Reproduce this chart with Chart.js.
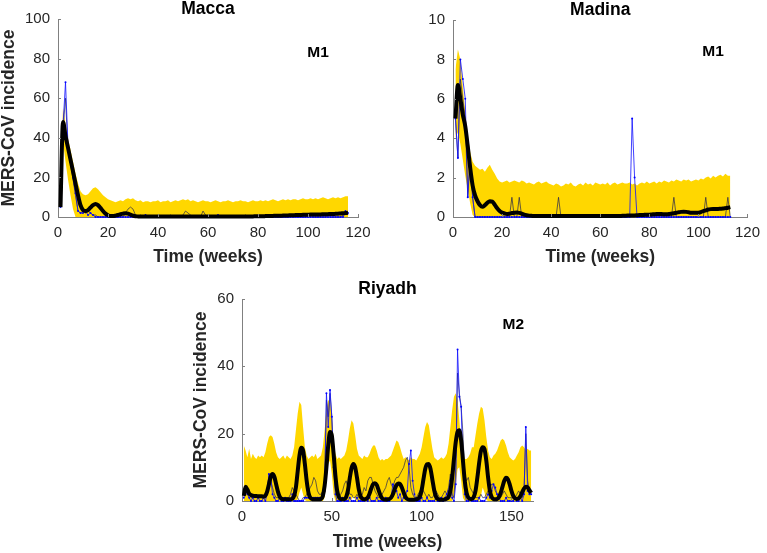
<!DOCTYPE html>
<html><head><meta charset="utf-8">
<script src="https://cdn.jsdelivr.net/npm/chart.js@4/dist/chart.umd.min.js"></script>
<style>
html,body{margin:0;padding:0;background:#fff;}
body{width:767px;height:553px;position:relative;overflow:hidden;}
canvas{position:absolute;}
</style></head><body>
<canvas id="c1" width="383" height="270" style="left:0;top:0"></canvas>
<canvas id="c2" width="384" height="270" style="left:383px;top:0"></canvas>
<canvas id="c3" width="400" height="273" style="left:192px;top:280px"></canvas>
<script>
// ---------------- DATA ----------------
const panelTitles = ['Macca', 'Madina', 'Riyadh'];
const modelTags = ['M1', 'M1', 'M2'];
const xAxisTitle = 'Time (weeks)';
const yAxisTitle = 'MERS-CoV incidence';

// Macca (weeks 1..116)
const maccaXTicks = [0, 20, 40, 60, 80, 100, 120];
const maccaYTicks = [0, 20, 40, 60, 80, 100];
const maccaMean = [
 5,48,41,35,29,23,17,11,6,3.5,
 3,3.5,4.8,6,6.6,6,4.6,3,1.7,0.9,
 0.5,0.5,0.7,1,1.4,1.7,1.9,1.7,1.2,0.7,
 0.4,0.3,0.25,0.2,0.2,0.2,0.2,0.2,0.2,0.2,
 0.2,0.2,0.2,0.2,0.2,0.2,0.2,0.2,0.2,0.2,
 0.2,0.2,0.2,0.2,0.2,0.2,0.2,0.2,0.2,0.2,
 0.2,0.2,0.2,0.2,0.2,0.2,0.2,0.2,0.2,0.2,
 0.2,0.2,0.25,0.25,0.3,0.3,0.3,0.3,0.35,0.35,
 0.4,0.4,0.45,0.5,0.5,0.55,0.6,0.6,0.65,0.7,
 0.75,0.8,0.85,0.9,0.95,1.0,1.05,1.1,1.1,1.15,
 1.2,1.2,1.25,1.3,1.3,1.35,1.4,1.45,1.5,1.5,
 1.6,1.7,1.8,1.9,2.0,2.1];
const maccaUpper = [
 20,55,47,40,34,28,22,17,13,11.5,
 11,11.5,13,14.5,15,14,12.5,11,10,9,
 8.5,8,7.5,8,8.5,8,9,9.5,9,9.5,
 8.5,8,8.5,7.5,8,8,7.5,8,8,8.5,
 7.5,8,8,8.5,7.5,8,8.5,8,8.5,9,
 8.5,9,8,8.5,8,7.5,8,8.5,8,8,
 7.5,8,8.5,8,7.5,8,8,8.5,8,7.5,
 8,8,8.5,8,8,7.5,8,8.5,8,8,
 8.5,8,8.5,8,8.5,9,8.5,8,8.5,9,
 8.5,9,8.5,9,9,8.5,9,9.5,9,9,
 9.5,9,9.5,9,9.5,10,9.5,9,9.5,10,
 9.5,10,9.5,10,10.5,10.5];
const maccaLower = [
 3,38,28,19,11,4,0,0,0,0,
 0,0,0,0,0,0,0,0,0,0, 0,0,0,0,0,0,0,0,0,0,
 0,0,0,0,0,0,0,0,0,0, 0,0,0,0,0,0,0,0,0,0,
 0,0,0,0,0,0,0,0,0,0, 0,0,0,0,0,0,0,0,0,0,
 0,0,0,0,0,0,0,0,0,0, 0,0,0,0,0,0,0,0,0,0,
 0,0,0,0,0,0,0,0,0,0, 0,0,0,0,0,0,0,0,0,0,
 0,0,0,0,0,0];
const maccaObserved = [
 5,46,68,36,28,20,12,3,2,2,
 3,1,2,1,0,0,0,0,0,0, 0,0,0,0,0,0,0,0,0,0,
 0,0,0,0,1,0,0,0,0,0, 0,0,0,0,0,0,0,0,0,0,
 0,0,0,0,0,0,0,0,0,0, 0,0,0,1,0,0,0,0,0,0,
 0,0,0,0,0,0,0,0,0,0, 0,0,0,0,0,0,0,0,0,0,
 0,0,0,0,0,0,0,0,0,0, 0,0,0,0,0,0,0,0,0,0,
 0,0,0,0,3,2];
const maccaSecondary = [
 5,44,60,34,27,19,11,3,2,3,
 2,3,2,1,1,0,0,0,0,0,
 0,0,0,0,0,0,2,4,5,4,
 1,0,1,0,1,0,0,0,0,0,
 0,0,0,0,1,0,0,0,0,1,
 3,2,1,0,0,0,0,3,1,0,
 0,0,0,0,0,0,0,0,0,0,
 0,0,0,0,1,0,0,0,0,0,
 0,0,0,0,0,0,0,0,0,0,
 0,0,0,1,0,0,0,0,0,1,
 1,0,0,0,0,0,0,1,0,0,
 0,0,0,1,3,1];

// Madina (weeks 1..113)
const madinaXTicks = [0, 20, 40, 60, 80, 100, 120];
const madinaYTicks = [0, 2, 4, 6, 8, 10];
const madinaMean = [
 5,6.7,6.0,5.2,4.6,3.6,2.5,1.6,1.1,0.8,
 0.6,0.52,0.6,0.72,0.8,0.78,0.62,0.44,0.3,0.22,
 0.18,0.15,0.17,0.2,0.22,0.23,0.21,0.17,0.12,0.09,
 0.07,0.06,0.05,0.05,0.05,0.05,0.05,0.05,0.05,0.05,
 0.05,0.05,0.05,0.05,0.05,0.05,0.05,0.05,0.05,0.05,
 0.05,0.05,0.05,0.05,0.05,0.05,0.05,0.05,0.05,0.05,
 0.05,0.05,0.05,0.05,0.05,0.05,0.05,0.05,0.06,0.06,
 0.07,0.07,0.08,0.08,0.09,0.1,0.1,0.11,0.12,0.12,
 0.13,0.14,0.15,0.15,0.15,0.14,0.14,0.15,0.17,0.19,
 0.22,0.24,0.26,0.27,0.26,0.24,0.22,0.21,0.21,0.22,
 0.25,0.3,0.34,0.38,0.4,0.41,0.41,0.41,0.42,0.43,
 0.45,0.47,0.5];
const madinaUpper = [
 7.5,8.5,8,6.6,5.3,4.2,3.3,2.8,2.6,2.5,
 2.4,2.45,2.3,2.5,2.65,2.4,2.2,1.95,1.8,1.75,
 1.8,1.85,1.75,1.8,1.85,1.8,1.75,1.85,1.8,1.7,
 1.75,1.7,1.65,1.75,1.8,1.7,1.75,1.8,1.7,1.65,
 1.6,1.7,1.65,1.55,1.6,1.7,1.65,1.75,1.6,1.55,
 1.65,1.7,1.6,1.75,1.65,1.7,1.6,1.75,1.7,1.65,
 1.7,1.65,1.75,1.6,1.7,1.75,1.65,1.7,1.75,1.7,
 1.7,1.75,1.65,1.7,1.6,1.7,1.75,1.7,1.8,1.7,
 1.75,1.8,1.7,1.8,1.75,1.85,1.8,1.75,1.85,1.8,
 1.9,1.85,1.8,1.9,1.85,1.9,1.8,1.85,1.9,1.85,
 1.95,1.9,2,2.05,1.95,2.1,2,2.1,2.15,2.05,
 2.2,2.1,2.1];
const madinaLower = [
 4,4.3,3.7,2.9,2.1,1.4,0.7,0.1,0,0,
 0,0,0,0,0,0,0,0,0,0, 0,0,0,0,0,0,0,0,0,0,
 0,0,0,0,0,0,0,0,0,0, 0,0,0,0,0,0,0,0,0,0,
 0,0,0,0,0,0,0,0,0,0, 0,0,0,0,0,0,0,0,0,0,
 0,0,0,0,0,0,0,0,0,0, 0,0,0,0,0,0,0,0,0,0,
 0,0,0,0,0,0,0,0,0,0, 0,0,0,0,0,0,0,0,0,0,
 0,0,0];
const madinaObserved = [
 5,3,8,7,6,1,3,1,0,0,
 0,0,0,0,0,0,0,0,0,0, 0,0,0,0,0,0,0,0,0,0,
 0,0,0,0,0,0,0,0,0,0, 0,0,0,0,0,0,0,0,0,0,
 0,0,0,0,0,0,0,0,0,0, 0,0,0,0,0,0,0,0,0,0,
 0,0,5,2,0,0,0,0,0,0, 0,0,0,0,0,0,0,0,0,0,
 0,0,0,0,0,0,0,0,0,0, 0,0,0,0,0,0,0,0,0,0,
 0,0,0];
const madinaSecondary = [
 5,3,7,6,5,1,3,1,0,0,
 0,0,0,0,0,0,0,0,0,0,
 0,0,0,1,0,0,1,0,0,0,
 0,0,0,0,0,0,0,0,0,0,
 0,0,1,0,0,0,0,0,0,0,
 0,0,0,0,0,0,0,0,0,0,
 0,0,0,0,0,0,0,0,0,0,
 0,0,0,0,0,0,0,0,0,0,
 0,0,0,0,0,0,0,0,0,1,
 0,0,0,0,0,0,0,0,0,0,
 0,0,1,0,0,0,0,0,0,0,
 0,1,0];

// Riyadh (weeks 1..161)
const riyadhXTicks = [0, 50, 100, 150];
const riyadhYTicks = [0, 20, 40, 60];
const riyadhMean = [
 1.5,4.2,3.4,2.2,1.8,1.6,1.5,1.5,1.4,1.4,
 1.4,1.3,1.6,2.8,5,7.2,8,7.2,5,2.8,
 1.3,0.7,0.5,0.5,0.5,0.5,0.5,0.7,1.5,4,
 8.8,13.5,15.8,15,11,6,2.5,1,0.6,0.5,
 0.5,0.5,0.5,0.6,1.5,4.5,10,16.5,20.5,19.5,
 14,7.5,3,1.1,0.6,0.5,0.6,1.2,3.2,6.8,
 9.8,11,10,7,3.5,1.4,0.7,0.5,0.6,1,
 2.2,3.8,5,5.3,4.8,3.3,1.8,0.8,0.5,0.4,
 0.5,0.6,1,2,3.5,4.7,5.2,5,4,2.5,
 1.2,0.6,0.4,0.4,0.4,0.4,0.5,0.7,1.3,3.2,
 6.4,9.5,10.9,11,9.4,6.3,3.2,1.3,0.6,0.4,
 0.4,0.4,0.5,0.7,1.2,3,7,12.5,17.5,20.5,
 21,18,12,6,2.5,1,0.6,0.6,1.2,3,
 6.8,11.2,14.8,16,15.4,12,7,3,1.2,0.6,
 0.5,0.6,1.1,2.4,4.2,6,6.9,6.5,5,3,
 1.5,0.8,0.6,0.8,1.5,2.6,3.7,4.2,4,3.2,
 2.4];
const riyadhUpper = [
 16.5,15,13,15.5,12.5,14,13,12.5,13.5,13,
 13.5,13,14.5,17,19,19.5,19,17,14.5,13,
 12.5,13,13.5,12.5,13.5,13,12.5,13.5,16,21,
 26,29.5,28.5,22,16,13.5,12.5,13,13.5,13,
 14,12.5,13,13.5,16,21,27,30,29.5,25,
 18,14,12.5,13,12.5,13,13.5,15,18,21.5,
 24,23,19.5,15.5,13.5,13,12.5,13.5,13,13,
 14,15.5,16.5,16.5,15,13,12,12.5,12,12.5,
 12.5,13,13.5,15,16.5,18,17.5,16,14,12.5,
 13,12.5,12,13,12.5,12.5,12,13,14,16,
 19,22,23.5,22.5,19,15.5,13,12.5,12,12.5,
 13,12.5,13,14,17,22,27,31,32,30,
 24,17.5,14,12.5,12.5,13,14,16,16,19.5,
 23,26,28,27.5,24,19,15,13,12.5,13.5,
 14,15,16.5,18,18.5,18,16.5,14.5,13,12.5,
 12,12.5,13.5,14.5,16,16.5,16,15,15.5,15,
 15];
const riyadhLower = [
 0,0,0,0,0,0,0,0,0,0, 0,0,0,0,0,0,0,0,0,0, 0,0,0,0,0,0,0,0,0,0,
 0.5,2.5,4,2,0.3,0,0,0,0,0,
 0,0,0,0,0,1,6,11,12,8,
 2,0,0,0,0,0,0,0,0,0,
 0.5,1.5,0.5,0,0,0,0,0,0,0,
 0,0,0,0,0,0,0,0,0,0, 0,0,0,0,0,0,0,0,0,0, 0,0,0,0,0,0,0,0,0,0,
 0,0,0,0,0,0,0,0,0,0,
 0,0,0,0,0,0,0,1,5,9.5,
 10,6,1,0,0,0,0,0,0,0,
 0,0,1.5,4,2.5,0.3,0,0,0,0,
 0,0,0,0,0,0,0,0,0,0, 0,0,0,0,0,0,0,0,0,0,
 0];
const riyadhObserved = [
 1,3,2,1,0,1,0,0,1,0,
 0,1,0,2,8,7,2,1,0,0,
 1,0,0,1,0,0,0,2,0,0,
 0,0,0,0,1,1,1,1,1,1,
 1,1,1,1,1,3,32,22,33,25,
 10,2,0,0,0,1,0,0,0,1,
 0,0,0,1,0,0,0,0,1,0,
 1,0,0,0,1,0,0,0,0,1,
 0,0,1,5,4,3,1,2,0,1,
 2,3,11,15,6,2,0,0,0,1,
 0,0,1,0,0,0,0,1,0,0,
 1,0,1,2,3,6,1,0,5,45,
 31,28,10,2,0,0,1,0,0,0,
 0,1,0,0,0,1,2,1,3,5,
 4,2,1,0,0,0,1,0,0,0,
 0,1,0,0,1,0,2,22,3,2,
 2];
const riyadhSecondary = [
 2,3,2,2,1,1,1,1,1,1,
 1,1,1,3,8,6,4,2,1,1,
 1,1,1,1,1,1,2,4,3,2,
 1,0,0,1,1,2,3,4,5,7,
 6,3,2,2,3,5,30,25,32,25,
 12,4,2,1,2,3,5,6,4,2,
 2,1,1,2,1,1,2,4,3,6,
 7,7,5,3,2,1,1,2,3,4,
 6,7,5,4,6,7,7,8,9,10,
 12,13,10,4,2,1,1,2,3,4,
 3,2,1,2,1,1,2,3,2,1,
 1,2,3,2,4,8,2,1,10,38,
 32,28,20,8,6,7,4,3,2,1,
 1,1,2,1,1,2,3,4,5,5,
 3,2,1,1,2,3,2,1,1,1,
 1,1,2,3,2,1,3,20,6,3,
 2];

// ---------------- RENDERING ----------------
const FONT = '"Liberation Sans", Arial, Helvetica, sans-serif';
Chart.defaults.font.family = FONT;
const AXIS = '#808080', TXT = '#262626';

const toPts = arr => arr.map((v, i) => ({x: i + 1, y: v}));

const inTicks = {
  id: 'inTicks',
  afterDatasetsDraw(chart) {
    const {ctx, chartArea: {left, bottom}, scales: {x, y}} = chart;
    ctx.save(); ctx.strokeStyle = AXIS; ctx.lineWidth = 1; ctx.beginPath();
    x.ticks.forEach(t => { const p = Math.round(x.getPixelForValue(t.value)) + 0.5; ctx.moveTo(p, bottom); ctx.lineTo(p, bottom - 3); });
    y.ticks.forEach(t => { const p = Math.round(y.getPixelForValue(t.value)) + 0.5; ctx.moveTo(left, p); ctx.lineTo(left + 3, p); });
    ctx.stroke(); ctx.restore();
  }
};
const panelText = {
  id: 'panelText',
  afterDraw(chart, args, o) {
    const {ctx, chartArea, scales: {x, y}} = chart;
    ctx.save();
    ctx.fillStyle = '#000'; ctx.textAlign = 'center'; ctx.textBaseline = 'middle';
    ctx.font = 'bold 17.5px ' + FONT;
    ctx.fillText(o.title, (chartArea.left + chartArea.right) / 2, chartArea.top + o.titleDy);
    ctx.font = 'bold 15.5px ' + FONT;
    ctx.fillText(o.tag, x.getPixelForValue(o.tagX), y.getPixelForValue(o.tagY));
    ctx.restore();
  }
};

function makePanel(id, d) {
  return new Chart(document.getElementById(id), {
    type: 'line',
    data: { datasets: [
      {data: toPts(d.mean), borderColor: '#000', borderWidth: 4, pointRadius: 0, tension: 0.4, cubicInterpolationMode: 'monotone', fill: false, clip: false},
      {data: toPts(d.obs), borderColor: '#1010ff', borderWidth: 0.8, pointRadius: 1, pointBackgroundColor: '#0000ff', pointBorderWidth: 0, tension: 0, fill: false, clip: false},
      {data: toPts(d.sec), borderColor: 'rgba(30,30,80,0.85)', borderWidth: 0.8, pointRadius: 0, tension: 0, fill: false, clip: false},
      {data: toPts(d.upper), borderColor: 'rgba(0,0,0,0)', borderWidth: 0, backgroundColor: '#FFD700', pointRadius: 0, tension: 0, fill: '+1'},
      {data: toPts(d.lower), borderColor: 'rgba(0,0,0,0)', borderWidth: 0, pointRadius: 0, tension: 0, fill: false}
    ]},
    options: {
      responsive: false, animation: false, devicePixelRatio: 1,
      layout: {padding: d.pad},
      plugins: {legend: {display: false}, tooltip: {enabled: false},
        panelText: {title: d.title, tag: d.tag, tagX: d.tagX, tagY: d.tagY, titleDy: -10}},
      scales: {
        x: {type: 'linear', min: 0, max: d.xmax,
          afterBuildTicks: s => { s.ticks = d.xticks.map(v => ({value: v})); },
          afterFit: s => { s.height = d.xh; },
          grid: {display: false, drawTicks: false},
          border: {display: true, color: AXIS, width: 1},
          ticks: {padding: 7, color: TXT, font: {size: 15}, maxRotation: 0, autoSkip: false},
          title: {display: true, text: xAxisTitle, color: TXT, font: {size: 17.5, weight: 'bold', lineHeight: 1}, padding: {top: 0, bottom: d.xtpad}}},
        y: {type: 'linear', min: 0, max: d.ymax,
          afterBuildTicks: s => { s.ticks = d.yticks.map(v => ({value: v})); },
          afterFit: s => { s.width = d.yw; },
          grid: {display: false, drawTicks: false},
          border: {display: true, color: AXIS, width: 1},
          ticks: {padding: 8, color: TXT, font: {size: 15}, autoSkip: false},
          title: {display: d.ytitle, text: yAxisTitle, color: TXT, font: {size: 17.5, weight: 'bold', lineHeight: 1}, padding: {top: 0, bottom: 0}}}
      }
    },
    plugins: [inTicks, panelText]
  });
}

makePanel('c1', {mean: maccaMean, obs: maccaObserved, sec: maccaSecondary, upper: maccaUpper, lower: maccaLower,
  xticks: maccaXTicks, yticks: maccaYTicks, xmax: 120, ymax: 100, title: panelTitles[0], tag: modelTags[0], tagX: 104, tagY: 83,
  pad: {left: 0, top: 19, right: 25, bottom: 0}, yw: 58, xh: 53, xtpad: 4, ytitle: true});
makePanel('c2', {mean: madinaMean, obs: madinaObserved, sec: madinaSecondary, upper: madinaUpper, lower: madinaLower,
  xticks: madinaXTicks, yticks: madinaYTicks, xmax: 120, ymax: 10, title: panelTitles[1], tag: modelTags[1], tagX: 106, tagY: 8.4,
  pad: {left: 0, top: 20, right: 12, bottom: 0}, yw: 70, xh: 53, xtpad: 4, ytitle: false});
makePanel('c3', {mean: riyadhMean, obs: riyadhObserved, sec: riyadhSecondary, upper: riyadhUpper, lower: riyadhLower,
  xticks: riyadhXTicks, yticks: riyadhYTicks, xmax: 162, ymax: 60, title: panelTitles[2], tag: modelTags[2], tagX: 151, tagY: 52.5,
  pad: {left: 0, top: 19, right: 59, bottom: 0}, yw: 50, xh: 52, xtpad: 2, ytitle: true});
</script>
</body></html>
